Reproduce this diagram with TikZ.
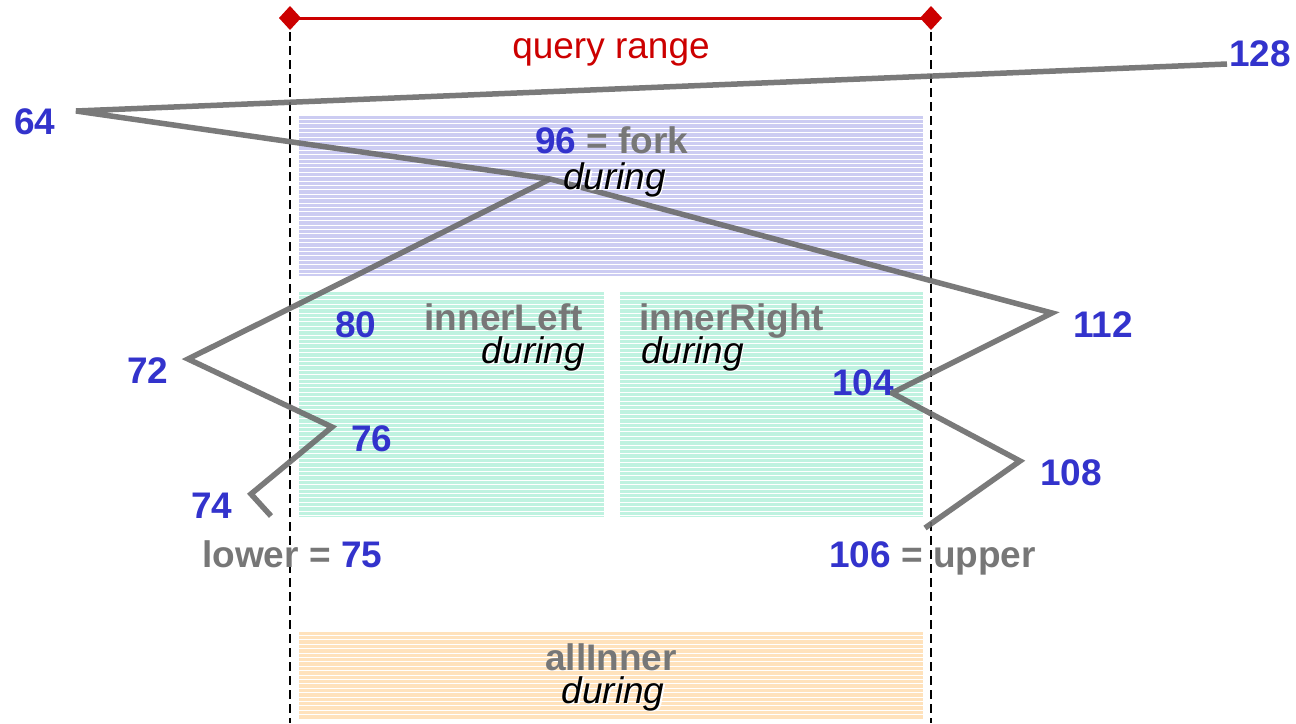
\documentclass[tikz,border=0pt]{standalone}
\usepackage{fontspec}
\setmainfont{Liberation Sans}
\definecolor{numblue}{HTML}{3333CC}
\definecolor{txtgray}{HTML}{777777}
\definecolor{qred}{HTML}{CC0000}
\definecolor{forkfill}{HTML}{CCCCF2}
\definecolor{innerfill}{HTML}{BFF2E0}
\definecolor{allfill}{HTML}{FFE2BC}
\tikzset{
  stripes/.style={path picture={
    \foreach \k in {1,...,60} {
      \draw[white, line width=0.9pt]
        ([yshift=-\k*4.4pt+1pt]path picture bounding box.north west) --
        ([yshift=-\k*4.4pt+1pt]path picture bounding box.north east);
    }}},
  stripedarea/.style={draw=none, inner sep=0pt, outer sep=0pt, anchor=north west, stripes},
  boldlbl/.style={inner sep=0pt, font=\fontsize{37}{40}\selectfont\bfseries},
  numlbl/.style={boldlbl, text=numblue},
  graylbl/.style={boldlbl, text=txtgray},
  durlbl/.style={inner sep=0pt, font=\fontsize{37}{40}\selectfont\itshape, text=black},
  durshadow/.style={inner sep=0pt, font=\fontsize{37}{40}\selectfont\itshape, text=white},
  searchline/.style={draw=black!58, line width=5.5pt, draw opacity=0.9},
  limitline/.style={draw=black, line width=1.6pt, dash pattern=on 9pt off 5pt},
  qmark/.style={fill=qred, draw=none},
}
\begin{document}
\begin{tikzpicture}[x=1pt,y=-1pt]
\useasboundingbox (0,0) rectangle (1296,723);

% areas
\node[stripedarea, fill=forkfill, minimum width=624pt, minimum height=160pt] (forkbox) at (299,116) {};
\node[stripedarea, fill=innerfill, minimum width=305pt, minimum height=225pt] (leftbox) at (299,292) {};
\node[stripedarea, fill=innerfill, minimum width=303pt, minimum height=225pt] (rightbox) at (620,292) {};
\node[stripedarea, fill=allfill, minimum width=624pt, minimum height=88pt] (allbox) at (299,632) {};

% query range
\coordinate (bL) at (290,723);
\coordinate (bR) at (931,723);
\coordinate (qL) at (290,18);
\coordinate (qR) at (931,18);
\draw[limitline] (qL) -- (bL);
\draw[limitline] (qR) -- (bR);
\draw[qred, line width=3pt] (qL) -- (qR);
\fill[qmark] (qL) ++(-11,0) -- ++(11,-12) -- ++(11,12) -- ++(-11,12) -- cycle;
\fill[qmark] (qR) ++(-11,0) -- ++(11,-12) -- ++(11,12) -- ++(-11,12) -- cycle;
\node[inner sep=0pt, anchor=base, text=qred, font=\fontsize{37}{40}\selectfont] (qlabel) at (611,58) {query range};

% search path vertices
\coordinate (v128) at (1227,64);
\coordinate (v64) at (76,111);
\coordinate (v96) at (550,179);
\coordinate (v112) at (1052,313);
\coordinate (v104) at (892,393);
\coordinate (v108) at (1020,461);
\coordinate (v106) at (925,528);
\coordinate (v72) at (188,359);
\coordinate (v76) at (332,427);
\coordinate (v74) at (251,494);
\coordinate (v75) at (271,516);
\draw[searchline] (v128) -- (v64) -- (v96) -- (v112) -- (v104) -- (v108) -- (v106);
\draw[searchline] (v96) -- (v72) -- (v76) -- (v74) -- (v75);

% labels
\node[numlbl, anchor=base west] (n128) at (1229,66) {128};
\node[numlbl, anchor=base west] (n64) at (14,134) {64};
\node[graylbl, anchor=base west] (n96) at (535,153) {\textcolor{numblue}{96} = fork};
\node[durshadow, anchor=base west] at (564.5,190.5) {during};
\node[durlbl, anchor=base west] (d96) at (563,189) {during};
\node[numlbl, anchor=base west] (n80) at (335,337) {80};
\node[graylbl, anchor=base east] (nIL) at (583,330) {innerLeft};
\node[durshadow, anchor=base east] at (586.5,364.5) {during};
\node[durlbl, anchor=base east] (dIL) at (585,363) {during};
\node[graylbl, anchor=base west] (nIR) at (639,330) {innerRight};
\node[durshadow, anchor=base west] at (642.5,364.5) {during};
\node[durlbl, anchor=base west] (dIR) at (641,363) {during};
\node[numlbl, anchor=base west] (n112) at (1073,337) {112};
\node[numlbl, anchor=base west] (n72) at (127,383) {72};
\node[numlbl, anchor=base west] (n104) at (832,395) {104};
\node[numlbl, anchor=base west] (n76) at (351,451) {76};
\node[numlbl, anchor=base west] (n108) at (1040,485) {108};
\node[numlbl, anchor=base west] (n74) at (191,518) {74};
\node[graylbl, anchor=base west] (nlow) at (202,567) {lower = \textcolor{numblue}{75}};
\node[graylbl, anchor=base west] (nup) at (829,567) {\textcolor{numblue}{106} = upper};
\node[graylbl, anchor=base] (nall) at (611,670) {allInner};
\node[durshadow, anchor=base] at (614.5,704.5) {during};
\node[durlbl, anchor=base] (dall) at (613,703) {during};
\end{tikzpicture}
\end{document}
